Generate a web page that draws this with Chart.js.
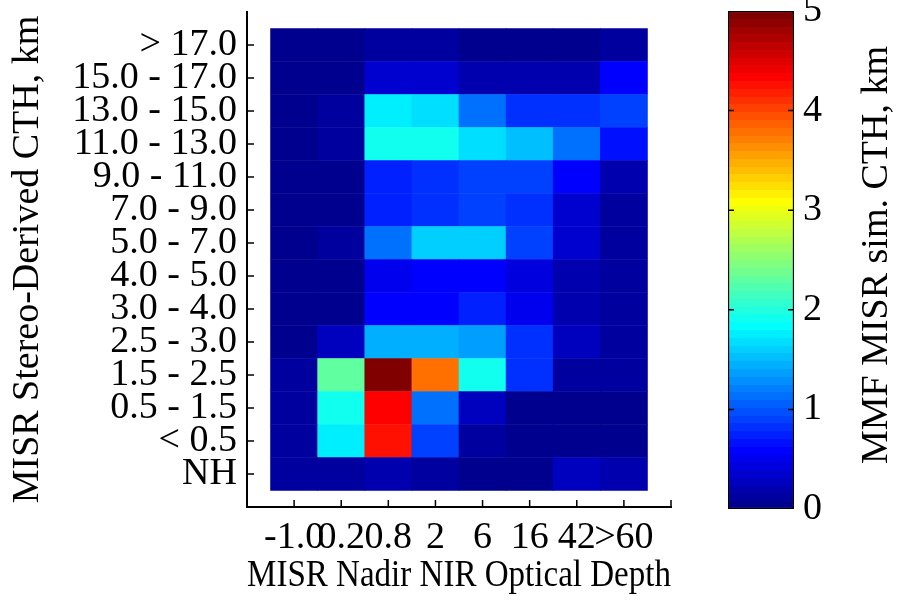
<!DOCTYPE html>
<html>
<head>
<meta charset="utf-8">
<script src="https://cdn.jsdelivr.net/npm/chart.js@4.4.1/dist/chart.umd.min.js"></script>
<style>
body { margin: 0; background: #fff; }
#wrap { position: relative; width: 897px; height: 605px; }
#heat { position: absolute; left: 0; top: 0; }
#cbar { position: absolute; left: 700px; top: 0; }
</style>
</head>
<body>
<div id="wrap">
<canvas id="heat" width="897" height="605"></canvas>
<canvas id="cbar" width="197" height="605"></canvas>
</div>
<script>
// optical depth bins (columns)
var tauBins = ["-1.0", "0.2", "0.8", "2", "6", "16", "42", ">60"];
// cloud top height bins, top row first
var cthBins = ["> 17.0", "15.0 - 17.0", "13.0 - 15.0", "11.0 - 13.0", "9.0 - 11.0",
    "7.0 - 9.0", "5.0 - 7.0", "4.0 - 5.0", "3.0 - 4.0", "2.5 - 3.0",
    "1.5 - 2.5", "0.5 - 1.5", "< 0.5", "NH"];
// MMF MISR sim. CTH values (km), rows in the same order as cthBins
var rowGt17   = [0.03, 0.03, 0.15, 0.15, 0.05, 0.05, 0.03, 0.15];
var row15to17 = [0.03, 0.03, 0.35, 0.35, 0.20, 0.20, 0.20, 0.60];
var row13to15 = [0.03, 0.12, 1.75, 1.68, 1.17, 0.80, 0.80, 0.90];
var row11to13 = [0.03, 0.12, 1.88, 1.95, 1.70, 1.53, 1.13, 0.70];
var row9to11  = [0.03, 0.03, 0.78, 0.82, 0.90, 0.90, 0.60, 0.20];
var row7to9   = [0.03, 0.03, 0.78, 0.82, 0.90, 0.82, 0.35, 0.12];
var row5to7   = [0.03, 0.12, 1.17, 1.64, 1.64, 0.90, 0.35, 0.12];
var row4to5   = [0.03, 0.03, 0.50, 0.60, 0.60, 0.45, 0.20, 0.12];
var row3to4   = [0.03, 0.03, 0.60, 0.60, 0.78, 0.50, 0.20, 0.10];
var row25to3  = [0.03, 0.25, 1.41, 1.41, 1.33, 0.80, 0.30, 0.10];
var row15to25 = [0.12, 2.33, 5.00, 3.82, 1.92, 0.80, 0.12, 0.08];
var row05to15 = [0.12, 1.95, 4.35, 1.17, 0.30, 0.05, 0.05, 0.05];
var rowLt05   = [0.08, 1.79, 4.22, 0.90, 0.15, 0.05, 0.05, 0.05];
var rowNH     = [0.08, 0.08, 0.18, 0.08, 0.05, 0.05, 0.30, 0.18];
var cthValues = [rowGt17, row15to17, row13to15, row11to13, row9to11, row7to9, row5to7,
    row4to5, row3to4, row25to3, row15to25, row05to15, rowLt05, rowNH];
var cbarTicks = [0, 1, 2, 3, 4, 5];

var FONT = "'Liberation Serif', 'Times New Roman', serif";
Chart.defaults.font.family = FONT;
Chart.defaults.font.size = 38;
Chart.defaults.color = '#000';

// matlab jet(64)
function jetPart(j) {
    if (j < 1 || j > 47) return 0;
    if (j <= 16) return j / 16;
    if (j <= 31) return 1;
    return (48 - j) / 16;
}
function jetColor(k) {
    var idx = k + 1;
    var r = jetPart(idx - 24), g = jetPart(idx - 8), b = jetPart(idx + 8);
    return 'rgb(' + Math.round(r * 255) + ',' + Math.round(g * 255) + ',' + Math.round(b * 255) + ')';
}
var cmin = cbarTicks[0], cmax = cbarTicks[cbarTicks.length - 1];
function valueColor(v) {
    var k = Math.floor((v - cmin) / (cmax - cmin) * 64);
    return jetColor(Math.max(0, Math.min(63, k)));
}

// heatmap as stacked bars, bottom row first
var xLabels = [""].concat(tauBins, [""]);
var datasets = [];
for (var r = cthValues.length - 1; r >= 0; r--) {
    var data = [null], colors = ['#fff'];
    cthValues[r].forEach(function (v) {
        data.push(1);
        colors.push(valueColor(v));
    });
    data.push(null);
    colors.push('#fff');
    datasets.push({
        label: cthBins[r],
        data: data,
        backgroundColor: colors,
        borderWidth: 0,
        barPercentage: 1,
        categoryPercentage: 1
    });
}

var innerTicks = {
    id: 'innerTicks',
    afterDraw: function (chart) {
        var ctx = chart.ctx, a = chart.chartArea;
        var xs = chart.scales.x, ys = chart.scales.y;
        ctx.save();
        ctx.strokeStyle = '#000';
        ctx.lineWidth = 1.5;
        ctx.beginPath();
        xs.ticks.forEach(function (t, i) {
            var px = xs.getPixelForTick(i);
            ctx.moveTo(px, a.bottom);
            ctx.lineTo(px, a.bottom - 7);
        });
        ys.ticks.forEach(function (t, i) {
            var py = ys.getPixelForTick(i);
            ctx.moveTo(a.left, py);
            ctx.lineTo(a.left + 7, py);
        });
        ctx.stroke();
        ctx.restore();
    }
};

new Chart(document.getElementById('heat').getContext('2d'), {
    type: 'bar',
    data: { labels: xLabels, datasets: datasets },
    options: {
        responsive: false,
        animation: false,
        layout: { padding: { left: 0, right: 226, top: 12, bottom: 0 } },
        plugins: { legend: { display: false }, tooltip: { enabled: false } },
        scales: {
            x: {
                stacked: true,
                offset: false,
                grid: { display: false, drawTicks: false },
                border: { display: true, color: '#000', width: 2 },
                ticks: { autoSkip: false, maxRotation: 0, minRotation: 0, padding: 8 },
                title: { display: true, text: 'MISR Nadir NIR Optical Depth', padding: { top: 0, bottom: 6 } },
                afterFit: function (s) {
                    s.height = 98;
                    s.paddingLeft = 0;
                    s.paddingRight = 0;
                }
            },
            y: {
                stacked: true,
                min: -0.5,
                max: cthBins.length + 0.5,
                grid: { display: false, drawTicks: false },
                border: { display: true, color: '#000', width: 2 },
                afterBuildTicks: function (s) {
                    s.ticks = cthBins.map(function (l, i) { return { value: i + 0.5 }; });
                },
                ticks: {
                    autoSkip: false,
                    padding: 10,
                    callback: function (v) {
                        return cthBins[cthBins.length - 1 - Math.round(v - 0.5)];
                    }
                },
                title: { display: true, text: 'MISR Stereo-Derived CTH, km', padding: { top: 5, bottom: 0 } },
                afterFit: function (s) {
                    s.width = 247;
                    s.paddingTop = 0;
                    s.paddingBottom = 0;
                }
            }
        }
    },
    plugins: [innerTicks]
});

// colorbar
var cbarDecor = {
    id: 'cbarDecor',
    afterDraw: function (chart) {
        var ctx = chart.ctx, a = chart.chartArea, ys = chart.scales.y;
        ctx.save();
        ctx.strokeStyle = '#000';
        ctx.lineWidth = 1.5;
        ctx.beginPath();
        cbarTicks.slice(1, -1).forEach(function (v) {
            var py = ys.getPixelForValue(v);
            ctx.moveTo(a.left, py); ctx.lineTo(a.left + 6, py);
            ctx.moveTo(a.right, py); ctx.lineTo(a.right - 6, py);
        });
        ctx.stroke();
        ctx.translate(177, (a.top + a.bottom) / 2 - 5);
        ctx.rotate(-Math.PI / 2);
        ctx.font = '38px ' + FONT;
        ctx.fillStyle = '#000';
        ctx.textAlign = 'center';
        ctx.textBaseline = 'middle';
        ctx.fillText('MMF MISR sim. CTH, km', 0, 0);
        ctx.restore();
    }
};

new Chart(document.getElementById('cbar').getContext('2d'), {
    type: 'bar',
    data: {
        labels: [''],
        datasets: [{
            data: [cmax],
            backgroundColor: function (c) {
                var chart = c.chart;
                if (!chart.chartArea) return '#000';
                var ys = chart.scales.y;
                var g = chart.ctx.createLinearGradient(0, ys.getPixelForValue(cmin), 0, ys.getPixelForValue(cmax));
                for (var k = 0; k < 64; k++) {
                    g.addColorStop(k / 64, jetColor(k));
                    g.addColorStop((k + 1) / 64, jetColor(k));
                }
                return g;
            },
            borderColor: '#000',
            borderWidth: 1.5,
            borderSkipped: false,
            barPercentage: 1,
            categoryPercentage: 1
        }]
    },
    options: {
        responsive: false,
        animation: false,
        layout: { padding: { left: 28, right: 0, top: 11, bottom: 96 } },
        plugins: { legend: { display: false }, tooltip: { enabled: false } },
        scales: {
            x: { display: false },
            y: {
                position: 'right',
                min: cmin,
                max: cmax,
                grid: { display: false, drawTicks: false },
                border: { display: false },
                afterBuildTicks: function (s) {
                    s.ticks = cbarTicks.map(function (v) { return { value: v }; });
                },
                ticks: { padding: 9, autoSkip: false },
                afterFit: function (s) {
                    s.width = 103;
                    s.paddingTop = 0;
                    s.paddingBottom = 0;
                }
            }
        }
    },
    plugins: [cbarDecor]
});
</script>
</body>
</html>
